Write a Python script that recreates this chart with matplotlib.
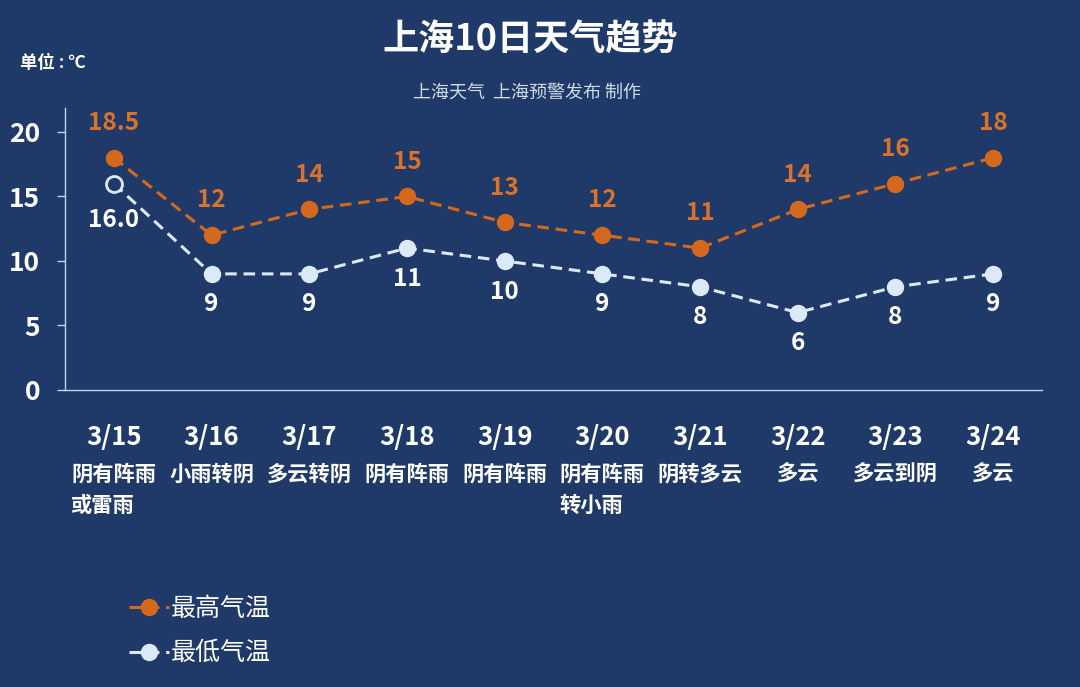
import matplotlib
matplotlib.use("Agg")
import matplotlib.pyplot as plt

plt.rcParams['font.family'] = ['Noto Sans CJK SC', 'DejaVu Sans']

dates = ["3/15", "3/16", "3/17", "3/18", "3/19", "3/20", "3/21", "3/22", "3/23", "3/24"]
weather = ["阴有阵雨\n或雷雨", "小雨转阴", "多云转阴", "阴有阵雨", "阴有阵雨",
           "阴有阵雨\n转小雨", "阴转多云", "多云", "多云到阴", "多云"]
high = [18, 12, 14, 15, 13, 12, 11, 14, 16, 18]
high_labels = ["18.5", "12", "14", "15", "13", "12", "11", "14", "16", "18"]
low = [16, 9, 9, 11, 10, 9, 8, 6, 8, 9]
low_labels = ["16.0", "9", "9", "11", "10", "9", "8", "6", "8", "9"]
yticks = [0, 5, 10, 15, 20]

BG = "#1F3A68"
ORANGE = "#D4691E"
ORANGE_TXT = "#D9722A"
LOWC = "#DCE9F7"
AXC = "#C5D3EA"

W, H = 1080, 687
fig = plt.figure(figsize=(W / 100, H / 100), dpi=100, facecolor=BG)
ax = fig.add_axes([65 / W, 1 - 390 / H, (1042 - 65) / W, (390 - 108) / H])
ax.set_facecolor(BG)

x = list(range(len(dates)))
lh, = ax.plot(x, high, color=ORANGE, lw=2.2, ls=(0, (3.8, 2.2)), marker='o',
              ms=11.5, mfc=ORANGE, mec=ORANGE, label="最高气温", zorder=3)
ll, = ax.plot(x, low, color=LOWC, lw=2.2, ls=(0, (3.8, 2.2)), marker='o',
              ms=11.5, mfc=LOWC, mec=LOWC, label="最低气温", zorder=3)
# first low point drawn hollow
ax.plot(x[:1], low[:1], ls='none', marker='o', ms=11.5, mfc=BG, mec=LOWC,
        mew=2, zorder=4)

for xi, v, t in zip(x, high, high_labels):
    ax.annotate(t, (xi, v), xytext=(0, 25), textcoords='offset points',
                ha='center', va='center', color=ORANGE_TXT, fontsize=17.5,
                fontweight='bold')
for i, (xi, v, t) in enumerate(zip(x, low, low_labels)):
    off = -26 if i == 0 else -22
    ax.annotate(t, (xi, v), xytext=(0, off), textcoords='offset points',
                ha='center', va='center', color='white', fontsize=17.5,
                fontweight='bold')

ax.set_xlim(-0.5, len(dates) - 0.5)
ax.set_ylim(0, 21.86)
ax.set_yticks(yticks)
ax.set_yticklabels([str(v) for v in yticks], fontsize=19, fontweight='bold',
                   color='white')
ax.tick_params(axis='y', direction='out', length=6, width=1, color=AXC, pad=12)
ax.set_xticks([])
for s in ['top', 'right']:
    ax.spines[s].set_visible(False)
for s in ['left', 'bottom']:
    ax.spines[s].set_color(AXC)
    ax.spines[s].set_linewidth(1)

for xi, d, wt in zip(x, dates, weather):
    ax.annotate(d, (xi, 0), xycoords=('data', 'axes fraction'),
                xytext=(0, -34), textcoords='offset points', ha='center',
                va='center', color='white', fontsize=18.5, fontweight='bold')
    ax.annotate(wt, (xi, 0), xycoords=('data', 'axes fraction'),
                xytext=(0, -53), textcoords='offset points', ha='center',
                va='top', color='white', fontsize=15.3, fontweight='bold',
                multialignment='left', linespacing=1.62)

fig.text(530 / W, 1 - 40 / H, "上海10日天气趋势", ha='center', va='center',
         color='white', fontsize=26, fontweight='bold')
fig.text(527 / W, 1 - 93 / H, "上海天气  上海预警发布 制作", ha='center',
         va='center', color='#D2DAE8', fontsize=13)
fig.text(20 / W, 1 - 63 / H, "单位 : ℃", ha='left', va='center', color='white',
         fontsize=12.5, fontweight='bold')

leg = fig.legend(handles=[lh, ll], loc='upper left',
                 bbox_to_anchor=(116 / W, 1 - 583 / H), frameon=False,
                 fontsize=18, labelcolor='white', handlelength=1.6,
                 handletextpad=0.1, labelspacing=0.75, borderpad=0)

fig.savefig("out.png", dpi=100, facecolor=BG)
